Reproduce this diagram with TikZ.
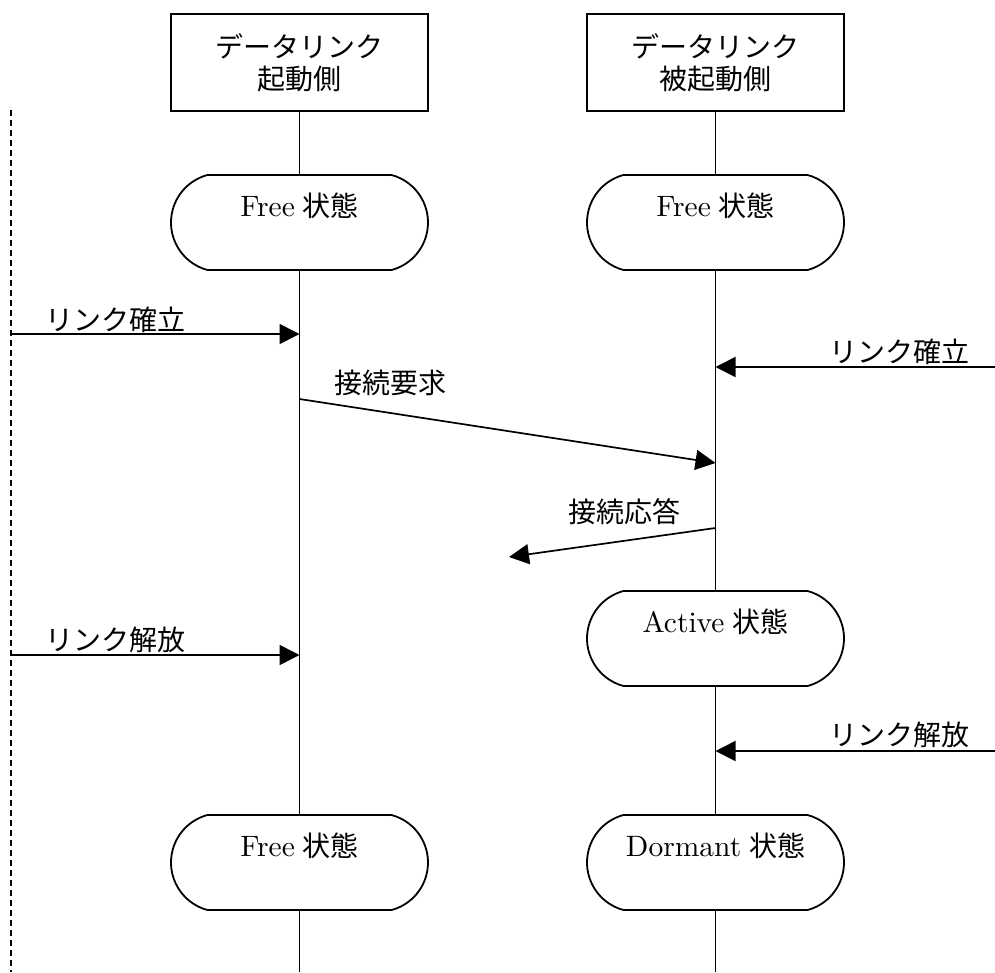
\documentclass[tikz,border=0pt]{standalone}
\usepackage{fontspec}
\newfontfamily\jp{Noto Sans CJK JP}
\usetikzlibrary{shapes.misc,arrows.meta}
\newcommand\latw[1]{\scalebox{2.95}{\fontsize{10}{12}\selectfont #1}}
\newcommand\stname[1]{\latw{#1}\hspace{0.28em}{\jp\fontsize{28}{32}\selectfont 状態}}
\begin{document}
\begin{tikzpicture}[x=1pt,y=-1pt,
  every node/.style={inner sep=0pt, outer sep=0pt},
  lbl/.style={font=\jp\fontsize{28}{32}\selectfont},
  headbox/.style={draw, line width=1.8pt, minimum width=257pt, minimum height=97pt, align=center, font=\jp\fontsize{28}{32}\selectfont},
  statebox/.style={draw, line width=1.8pt, rounded rectangle, rounded rectangle arc length=150, minimum width=257pt, minimum height=95pt, text height=20pt, text depth=33pt, font=\fontsize{28}{32}\selectfont},
  life/.style={line width=1.7pt},
  msg/.style={line width=1.7pt, -{Triangle[length=20pt,width=20pt]}},
  extline/.style={dashed, dash pattern=on 6pt off 4pt, line width=1.4pt},
]
\path[use as bounding box] (0,0) rectangle (995,972);

\node[headbox] (hA) at (299.5,62.5) {データリンク\\起動側};
\node[headbox] (hB) at (715.5,62.5) {データリンク\\被起動側};
\node[statebox] (fA) at (299.5,222.5) {\stname{Free}};
\node[statebox] (fB) at (715.5,222.5) {\stname{Free}};
\node[statebox] (aB) at (715.5,638.5) {\stname{Active}};
\node[statebox] (fA2) at (299.5,862.5) {\stname{Free}};
\node[statebox] (dB) at (715.5,862.5) {\stname{Dormant}};

\coordinate (endA) at (299.5,972);
\coordinate (endB) at (715.5,972);
\draw[life] (hA.south) -- (fA.north);
\draw[life] (fA.south) -- (fA2.north);
\draw[life] (fA2.south) -- (endA);
\draw[life] (hB.south) -- (fB.north);
\draw[life] (fB.south) -- (aB.north);
\draw[life] (aB.south) -- (dB.north);
\draw[life] (dB.south) -- (endB);

\coordinate (dtop) at (11,110);
\coordinate (dbot) at (11,972);
\draw[extline] (dtop) -- (dbot);

% messages
\coordinate (m1s) at (11,334);
\coordinate (m1e) at (299.5,334);
\draw[msg] (m1s) -- (m1e);
\node[lbl] (t1) at (115,320) {リンク確立};

\coordinate (m2s) at (299.5,399);
\coordinate (m2e) at (715.5,463);
\draw[msg] (m2s) -- (m2e);
\node[lbl] (t2) at (390,383) {接続要求};

\coordinate (m3s) at (995,367);
\coordinate (m3e) at (715.5,367);
\draw[msg] (m3s) -- (m3e);
\node[lbl] (t3) at (899,352) {リンク確立};

\coordinate (m4s) at (715.5,528);
\coordinate (m4e) at (509,557);
\draw[msg] (m4s) -- (m4e);
\node[lbl] (t4) at (624,512) {接続応答};

\coordinate (m5s) at (11,655);
\coordinate (m5e) at (299.5,655);
\draw[msg] (m5s) -- (m5e);
\node[lbl] (t5) at (115,640) {リンク解放};

\coordinate (m6s) at (995,751);
\coordinate (m6e) at (715.5,751);
\draw[msg] (m6s) -- (m6e);
\node[lbl] (t6) at (899,735) {リンク解放};
\end{tikzpicture}
\end{document}
